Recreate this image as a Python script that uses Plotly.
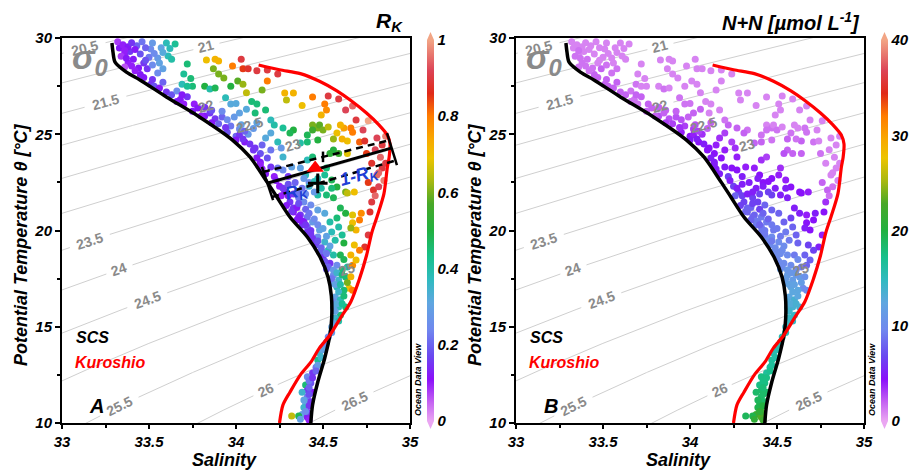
import numpy as np
import plotly.graph_objects as go

# ---------------- data ----------------
sal = [
    33.33, 33.36, 33.39, 33.41, 33.38, 33.43, 33.45, 33.47, 33.44, 33.51,
    33.52, 33.55, 33.56, 33.58, 33.55, 33.60, 33.65, 33.61, 33.63, 33.49,
    33.51, 33.53, 33.45, 33.72, 33.70, 33.74, 33.69, 33.75, 33.72, 33.83,
    33.88, 33.90, 33.98, 34.03, 34.04, 34.07, 34.12, 33.87, 33.90, 33.93,
    33.82, 33.85, 33.88, 33.97, 34.01, 34.04, 34.06, 33.94, 33.97, 34.00,
    34.02, 34.06, 34.09, 34.12, 33.68, 33.70, 33.66, 33.76, 33.78, 33.75,
    33.82, 33.80, 33.85, 33.88, 33.86, 33.90, 33.95, 33.97, 34.00, 34.02,
    34.07, 34.10, 34.18, 34.24, 34.18, 34.15, 34.28, 34.33, 34.29, 34.38,
    34.44, 34.53, 34.59, 34.51, 34.52, 34.49, 34.63, 34.67, 34.69, 34.73,
    34.76, 34.66, 34.67, 34.62, 34.60, 34.58, 34.64, 34.61, 34.56, 34.71,
    34.74, 34.81, 34.84, 34.86, 34.44, 34.47, 34.48, 34.44, 34.50, 34.53,
    34.33, 34.31, 34.27, 34.22, 34.20, 34.12, 34.11, 34.17, 34.20, 34.17,
    34.24, 34.37, 34.41, 34.47, 34.41, 34.56, 34.59, 34.54, 34.64, 34.10,
    34.14, 34.20, 34.26, 34.27, 34.05, 34.11, 34.15, 34.02, 34.00, 34.12,
    34.14, 34.18, 34.20, 34.24, 34.27, 34.32, 34.37, 34.41, 34.40, 34.44,
    34.47, 34.51, 34.52, 34.55, 34.58, 34.55, 34.49, 34.47, 34.52, 34.56,
    34.63, 34.64, 34.68, 34.60, 34.63, 34.67, 34.72, 34.71, 34.67, 34.69,
    34.66, 34.78, 34.79, 34.82, 34.81, 34.84, 34.86, 34.77, 34.76, 34.74,
    34.71, 34.68, 34.66, 34.62, 34.61, 34.59, 34.55, 34.58, 34.54, 34.51,
    34.47, 34.43, 34.39, 34.36, 34.31, 34.33, 34.37, 34.41, 34.44, 34.41,
    34.48, 34.47, 34.51, 34.53, 34.50, 34.56, 34.60, 34.33, 34.36, 34.39,
    34.38, 34.41, 34.44, 34.46, 34.48, 34.54, 34.58, 34.61, 34.64, 34.67,
    34.69, 34.56, 34.59, 34.63, 34.65, 34.67, 34.62, 34.58, 34.55, 34.57,
    34.60, 34.63, 34.59, 34.56, 34.60, 34.57, 34.55, 34.53, 34.50, 34.48,
    34.47, 34.46, 34.44, 34.41, 34.40, 34.43, 34.41, 34.41, 34.40, 34.43,
    34.39, 34.38, 34.36, 34.32, 34.41, 34.41, 34.44, 34.22, 34.25, 34.28,
    34.30, 34.35, 34.38, 34.43, 34.46, 34.50, 34.52, 34.34, 34.30, 34.38,
    34.42, 34.45, 34.40, 34.26, 34.32, 34.80, 34.83, 34.78, 34.82, 34.75,
    34.85, 34.80, 34.76, 34.42, 34.45,
    33.32, 33.35, 33.38, 33.40, 33.46, 33.48, 33.42, 33.36, 33.34, 33.37,
    33.50, 33.53, 33.57, 33.58, 33.62, 33.48, 33.52, 33.40, 33.36, 33.42,
    33.47, 33.52, 33.56, 33.60, 33.63, 33.58, 33.66, 33.72, 33.69, 33.82,
    33.86, 33.92, 33.95, 33.92, 33.99, 34.04, 34.08, 34.03, 33.94, 34.05,
    34.15, 34.17, 34.14, 34.23, 34.27, 34.30, 34.33, 34.36, 34.29, 34.40,
    34.42, 34.35, 34.40, 34.45, 34.47, 34.43, 34.50, 34.47, 34.52, 34.49,
    34.54, 34.57, 34.52, 34.36, 34.39,
    34.51, 34.53, 34.56, 34.55, 34.58, 34.61, 34.57, 34.60, 34.59, 34.62,
    34.56, 34.58, 34.61, 34.57, 34.59, 34.56, 34.55, 34.64, 34.66, 34.62,
    34.52, 34.50, 34.49, 34.47, 34.46, 34.42, 34.44, 34.42, 34.38, 34.42,
    34.39, 34.42, 34.40, 34.37, 34.42,
]
temp = [
    29.48, 29.17, 29.30, 28.90, 28.70, 29.60, 29.17, 28.70, 28.44, 29.43,
    29.74, 28.96, 28.70, 28.40, 28.18, 29.74, 29.69, 29.06, 28.90, 28.40,
    27.60, 27.50, 28.10, 28.65, 28.13, 27.90, 27.60, 27.50, 27.50, 28.86,
    28.90, 28.80, 28.55, 28.90, 28.40, 28.40, 28.30, 28.40, 28.13, 27.92,
    27.50, 27.35, 27.40, 27.50, 27.77, 27.60, 27.15, 26.90, 26.57, 26.60,
    26.10, 26.30, 26.70, 26.57, 26.80, 26.57, 26.70, 26.57, 26.36, 26.20,
    25.95, 25.95, 26.10, 25.80, 25.60, 25.55, 25.10, 25.43, 24.90, 25.27,
    25.00, 25.30, 28.34, 28.13, 27.77, 27.30, 27.14, 27.14, 26.78, 26.50,
    26.94, 26.99, 26.83, 26.57, 26.26, 26.00, 26.26, 26.47, 25.74, 25.22,
    25.70, 25.32, 25.10, 25.32, 25.48, 25.06, 24.65, 24.75, 24.75, 24.60,
    24.65, 24.80, 24.44, 24.90, 25.48, 25.32, 25.48, 25.22, 25.22, 25.38,
    25.22, 25.06, 25.32, 25.48, 25.74, 25.60, 26.10, 26.26, 25.06, 24.80,
    24.60, 24.55, 24.60, 24.70, 24.96, 24.18, 24.00, 24.00, 24.00, 24.18,
    24.00, 24.18, 24.29, 23.82, 24.60, 24.29, 24.44, 24.96, 24.70, 23.77,
    23.55, 23.77, 23.30, 23.25, 23.14, 23.30, 23.25, 23.66, 22.88, 23.82,
    22.70, 22.88, 23.25, 22.62, 22.26, 22.20, 22.20, 21.84, 21.84, 21.70,
    22.00, 21.95, 22.00, 21.17, 20.90, 20.80, 20.90, 20.55, 20.40, 20.03,
    20.13, 21.48, 22.10, 22.27, 22.88, 23.25, 23.50, 20.96, 19.77, 19.14,
    18.98, 19.25, 18.73, 19.35, 19.77, 20.18, 19.92, 20.65, 20.44, 20.90,
    21.06, 21.32, 21.48, 21.70, 21.48, 21.17, 20.80, 20.70, 20.44, 20.18,
    20.03, 19.66, 19.40, 18.98, 18.88, 18.73, 18.73, 20.96, 20.70, 20.44,
    20.29, 19.92, 19.60, 19.25, 18.88, 18.30, 18.20, 17.95, 18.10, 18.20,
    18.47, 17.69, 17.43, 17.58, 17.00, 16.90, 16.90, 17.06, 17.27, 16.55,
    16.40, 16.03, 16.03, 15.97, 15.60, 15.45, 14.99, 14.47, 13.95, 13.64,
    13.27, 12.90, 12.60, 12.40, 11.97, 12.08, 11.70, 11.35, 11.04, 11.10,
    10.80, 10.44, 10.36, 10.36, 10.30, 10.57, 11.60, 22.80, 22.30, 22.00,
    21.80, 21.20, 20.50, 20.00, 19.40, 18.60, 18.00, 22.50, 22.80, 22.20,
    22.50, 22.00, 21.90, 21.80, 21.00, 24.20, 23.80, 23.50, 23.00, 24.00,
    22.60, 21.80, 22.50, 22.30, 22.55,
    29.80, 29.65, 29.55, 29.75, 29.80, 29.50, 29.40, 29.35, 29.05, 28.95,
    29.00, 29.20, 29.50, 29.25, 29.45, 28.85, 28.60, 28.55, 28.50, 28.30,
    27.95, 27.85, 27.40, 27.20, 27.05, 27.70, 27.25, 26.95, 27.05, 26.40,
    26.25, 25.90, 25.75, 26.20, 25.90, 24.75, 24.50, 25.50, 25.35, 25.15,
    23.20, 22.95, 23.40, 22.60, 22.20, 22.40, 21.90, 21.40, 21.30, 21.10,
    20.90, 20.55, 20.30, 20.60, 20.30, 19.80, 20.10, 19.45, 19.70, 19.10,
    19.20, 19.50, 18.80, 22.00, 22.70,
    18.40, 18.10, 17.95, 17.50, 17.80, 17.70, 17.20, 17.20, 16.80, 16.60,
    16.30, 16.20, 16.20, 15.80, 15.30, 15.20, 14.70, 17.30, 17.60, 18.50,
    14.20, 13.80, 13.40, 13.00, 12.70, 12.20, 12.35, 11.85, 11.60, 11.50,
    11.20, 10.90, 10.60, 10.20, 10.15,
]
rk = [
    .12, .10, .15, .12, .10, .20, .18, .15, .12, .25,
    .28, .28, .30, .30, .25, .38, .42, .38, .40, .15,
    .15, .18, .12, .45, .42, .45, .38, .45, .42, .70,
    .72, .72, .80, .90, .85, .88, .90, .60, .60, .60,
    .50, .40, .48, .50, .58, .62, .65, .38, .32, .32,
    .30, .32, .45, .45, .12, .10, .12, .10, .12, .12,
    .12, .10, .15, .15, .12, .20, .18, .22, .20, .25,
    .28, .28, .90, .90, .80, .60, .72, .72, .65, .70,
    .80, .90, .90, .80, .78, .72, .92, .95, .90, .92,
    1.0, .80, .80, .75, .72, .70, .70, .72, .62, .82,
    .88, .92, .90, .97, .60, .60, .58, .55, .60, .65,
    .50, .48, .42, .40, .38, .30, .45, .45, .32, .32,
    .38, .40, .45, .50, .48, .50, .55, .52, .68, .15,
    .18, .22, .28, .35, .12, .15, .20, .15, .12, .12,
    .12, .18, .15, .22, .25, .30, .30, .38, .38, .45,
    .38, .42, .45, .48, .50, .45, .40, .40, .45, .48,
    .60, .65, .70, .48, .50, .68, .78, .80, .70, .72,
    .62, .90, .88, .92, .95, .90, .90, .88, .90, .88,
    .80, .70, .72, .50, .42, .40, .38, .45, .40, .32,
    .30, .25, .25, .22, .15, .15, .15, .22, .28, .20,
    .30, .25, .35, .38, .30, .40, .48, .12, .12, .12,
    .15, .15, .15, .18, .20, .15, .25, .45, .40, .78,
    .70, .25, .35, .45, .70, .80, .45, .38, .28, .30,
    .38, .45, .38, .30, .45, .35, .30, .25, .25, .35,
    .42, .22, .15, .25, .45, .18, .15, .22, .30, .15,
    .35, .30, .48, .65, .12, .15, .12, .10, .10, .12,
    .12, .12, .12, .15, .15, .15, .18, .20, .15, .22,
    .25, .28, .25, .10, .15, .92, .95, .88, .95, .85,
    .97, .95, .85, .35, .38,
    .08, .10, .12, .15, .22, .20, .12, .10, .08, .12,
    .22, .25, .30, .32, .38, .18, .25, .10, .06, .10,
    .12, .15, .12, .15, .18, .20, .25, .15, .12, .15,
    .18, .20, .25, .25, .28, .15, .15, .30, .15, .20,
    .10, .12, .10, .12, .15, .18, .15, .18, .12, .20,
    .22, .12, .15, .25, .25, .15, .30, .18, .30, .20,
    .30, .40, .22, .22, .28,
    .18, .20, .28, .22, .35, .45, .30, .40, .35, .45,
    .25, .32, .42, .30, .40, .30, .28, .60, .72, .48,
    .25, .30, .35, .28, .20, .22, .15, .20, .35, .18,
    .30, .15, .25, .30, .10,
]
nn = [
    1, 1, 1, 1.5, 1.5, 1, 1, 1, 1.5, 1,
    1, 1, 1, 1.5, 1.5, 1, 1, 1, 1, 2,
    2, 2, 2, 1, 1, 1, 1.5, 1, 1, 1,
    1, 1, 1, 1, 1, 1, 1, 1, 1, 1,
    1, 1.5, 1, 1, 1, 1, 1, 1.5, 1.5, 1.5,
    2, 2, 1, 1, 1.5, 1.5, 1.5, 2, 2, 2,
    2.5, 2, 2, 2.5, 3, 3, 4, 3, 4.5, 3,
    3.5, 2, 1, 1, 1, 1, 1, 1, 1, 1,
    1, 1, 1, 1, 1, 1, 1, 1, 1, 1,
    1, 1.5, 1.5, 1, 1, 1.5, 2, 1.5, 2, 1.5,
    1, 1, 1, 1, 1, 1.5, 1, 1.5, 1.5, 1,
    1.5, 2, 2, 2, 1.5, 2, 1, 1, 3, 3.5,
    3, 2, 2, 1.5, 1.5, 2, 2, 2.5, 2, 4.5,
    4.5, 4, 3.5, 4, 4.5, 4.5, 4, 4, 5, 5,
    5, 4.5, 5, 4.5, 4.5, 4, 4, 3.5, 4.5, 3,
    4.5, 4, 3.5, 4, 4.5, 5, 5, 6.5, 5, 5,
    4.5, 4.5, 4, 5, 5, 4, 5, 4.5, 4.5, 4.5,
    5, 3.5, 2, 1.5, 1, 1, 1, 4.5, 4, 5,
    6.5, 6.5, 8, 8, 8, 8, 9, 6.5, 8, 8,
    8, 8, 6.5, 6.5, 6.5, 8, 8, 9, 9, 9,
    9, 10, 10, 10, 10, 10, 9, 8, 8, 9,
    9, 9, 10, 10, 10, 10, 10, 10, 9, 8,
    8, 11.5, 11.5, 11.5, 10, 10, 12.5, 12.5, 11.5, 12.5,
    13.5, 13.5, 13.5, 13.5, 14.5, 14.5, 14.5, 15.5, 15.5, 15.5,
    16.5, 16.5, 16.5, 17.5, 17.5, 17.5, 18.5, 18.5, 19.5, 18.5,
    19.5, 22, 19.5, 19, 23, 22, 18.5, 6.5, 6.5, 6.5,
    6.5, 8, 9, 9, 10, 10, 11.5, 5, 5, 5,
    4.5, 6.5, 6.5, 8, 8, 1, 1, 1, 1, 1.5,
    1, 1.5, 2, 5, 4.5,
    1, 1, 1, 1, 1, 1, 1, 1.5, 1.5, 1.5,
    1, 1, 1, 1, 1, 1, 1.5, 1.5, 1.5, 1.5,
    2, 2, 2, 2, 2, 2, 1.5, 2, 2, 2,
    2, 2.5, 2.5, 2, 2, 5, 5, 2.5, 3.5, 3,
    5, 5, 5, 5, 5, 5, 5, 6.5, 6.5, 6.5,
    8, 8, 8, 8, 9, 9, 9, 9, 9, 10,
    10, 9, 10, 5, 5,
    10, 10, 11, 11.5, 11, 11, 12, 12, 12.5, 12.5,
    13, 13, 13.5, 14, 14.5, 14.5, 15, 11.5, 10.5, 10,
    15.5, 15.5, 16, 16.5, 17, 17.5, 17.5, 18, 18.5, 18.5,
    19, 20, 21, 21, 22,
]

# end-member curves
scs_sal = [33.287, 33.293, 33.305, 33.37, 33.448, 33.60, 33.79, 33.98, 34.08, 34.18, 34.235,
           34.31, 34.41, 34.483, 34.529, 34.548, 34.55, 34.54, 34.51, 34.47, 34.44, 34.43]
scs_temp = [29.74, 29.27, 28.75, 28.23, 27.82, 26.94, 25.90, 24.70, 23.82, 22.50, 21.74,
            20.70, 19.66, 18.62, 17.58, 16.60, 15.45, 14.57, 13.38, 12.13, 10.94, 10.00]
kuro_sal = [34.13, 34.25, 34.37, 34.48, 34.58, 34.66, 34.75, 34.82, 34.87, 34.885, 34.88, 34.87, 34.85,
            34.81, 34.78, 34.75, 34.71, 34.66, 34.60, 34.54, 34.48, 34.43, 34.37, 34.31, 34.27, 34.25]
kuro_temp = [28.60, 28.35, 28.15, 27.75, 27.25, 26.75, 26.10, 25.50, 24.95, 24.50, 23.80, 23.30, 21.90,
             20.70, 19.87, 18.70, 17.50, 16.30, 15.45, 14.57, 13.90, 13.16, 12.50, 11.60, 10.94, 10.00]

# mixing-line construction (panel A)
mix_solid_sal, mix_solid_temp = [34.184, 34.897], [22.47, 24.29]
mix_upper_sal, mix_upper_temp = [34.155, 34.885], [23.04, 24.70]
mix_lower_sal, mix_lower_temp = [34.207, 34.925], [21.74, 23.66]
cap_left_sal, cap_left_temp = [34.149, 34.213], [23.30, 21.58]
cap_right_sal, cap_right_temp = [34.868, 34.925], [25.06, 23.40]
tick_up_sal, tick_up_temp = [34.50, 34.50], [23.55, 24.10]
tick_lo_sal, tick_lo_temp = [34.47, 34.47], [22.10, 22.85]
obs_sal, obs_temp = [34.455], [23.25]
end_sal, end_temp = [34.47], [22.45]

# isopycnals (sigma-0) and where their labels sit
sigma_levels = [20.5, 21, 21.5, 22, 22.5, 23, 23.5, 24, 24.5, 25, 25.5, 26, 26.5]
sigma_label_sal = [33.13, 33.83, 33.25, 33.83, 34.08, 34.33, 33.16, 33.33, 33.49, 34.64, 33.33, 34.17, 34.68]
sigma_label_text = ['20.5', '21', '21.5', '22', '22.5', '23', '23.5', '24', '24.5', '25', '25.5', '26', '26.5']

x_ticks = [33, 33.5, 34, 34.5, 35]
x_tick_text = ['33', '33.5', '34', '34.5', '35']
x_minor = [33.25, 33.75, 34.25, 34.75]
y_ticks = [10, 15, 20, 25, 30]
y_minor = [12.5, 17.5, 22.5, 27.5]
rk_ticks = [0, 0.2, 0.4, 0.6, 0.8, 1]
rk_tick_text = ['0', '0.2', '0.4', '0.6', '0.8', '1']
nn_ticks = [0, 10, 20, 30, 40]
nn_tick_text = ['0', '10', '20', '30', '40']

# ---------------- style / layout ----------------
W, H = 910, 470
FONT = 'Liberation Sans, Arial, sans-serif'
PLOT_L = [62, 516]        # left pixel of each panel
PLOT_W = 348
PLOT_TOP, PLOT_BOT = 38, 423
px_s = PLOT_W / 2.0
px_t = (PLOT_BOT - PLOT_TOP) / 20.0

odv = [
    [0.00, '#eaa6f2'], [0.05, '#c462f2'], [0.11, '#8a10fa'], [0.17, '#6a48f0'],
    [0.24, '#7088ee'], [0.31, '#5fa6e0'], [0.37, '#30bac0'], [0.43, '#18c08c'],
    [0.50, '#22b040'], [0.57, '#48a828'], [0.63, '#a8b810'], [0.69, '#ecc400'],
    [0.74, '#f8a800'], [0.80, '#ff7c00'], [0.86, '#e02a18'], [0.92, '#dc4456'],
    [1.00, '#f2a585'],
]


def sigma0(S, T):
    rw = (999.842594 + 6.793952e-2 * T - 9.095290e-3 * T**2 + 1.001685e-4 * T**3
          - 1.120083e-6 * T**4 + 6.536332e-9 * T**5)
    A = 8.24493e-1 - 4.0899e-3 * T + 7.6438e-5 * T**2 - 8.2467e-7 * T**3 + 5.3875e-9 * T**4
    B = -5.72466e-3 + 1.0227e-4 * T - 1.6546e-6 * T**2
    C = 4.8314e-4
    return rw + A * S + B * S**1.5 + C * S**2 - 1000.0


def iso_temp(level, S):
    S = np.asarray(S, dtype=float)
    lo = np.zeros_like(S)
    hi = np.full_like(S, 40.0)
    for _ in range(60):
        mid = 0.5 * (lo + hi)
        dense = sigma0(S, mid) > level
        lo = np.where(dense, mid, lo)
        hi = np.where(dense, hi, mid)
    return 0.5 * (lo + hi)


s_grid = np.linspace(32.9, 35.1, 441)
iso_x, iso_y, iso_labels = [], [], []
for lev, ls, txt in zip(sigma_levels, sigma_label_sal, sigma_label_text):
    tg = iso_temp(lev, s_grid)
    lt = float(iso_temp(lev, [ls])[0])
    t2 = iso_temp(lev, [ls - 0.01, ls + 0.01])
    slope = (t2[1] - t2[0]) / 0.02
    ang = -np.degrees(np.arctan(slope * px_t / px_s))
    half = 4.0 * len(txt) + 5
    d = np.hypot((s_grid - ls) * px_s, (tg - lt) * px_t)
    for s, t, dd in zip(s_grid, tg, d):
        if dd < half:
            iso_x.append(None); iso_y.append(None)
        else:
            iso_x.append(float(s)); iso_y.append(float(t))
    iso_x.append(None); iso_y.append(None)
    iso_labels.append((ls, lt, txt, ang))

fig = go.Figure()


def tf(size, color='black', bold=True, italic=True):
    return dict(family=FONT, size=size, color=color,
                weight='bold' if bold else 'normal',
                style='italic' if italic else 'normal')


cb_len = 381
cb_y = 1 - ((PLOT_TOP + PLOT_BOT) / 2.0) / H

for p in range(2):
    xa = 'x' if p == 0 else 'x2'
    ya = 'y' if p == 0 else 'y2'
    fig.add_trace(go.Scatter(x=iso_x, y=iso_y, xaxis=xa, yaxis=ya, mode='lines',
                             line=dict(color='#cfcfcf', width=1), hoverinfo='skip', showlegend=False))
    cvals = rk if p == 0 else nn
    cmax = 1 if p == 0 else 40
    cb_x = (PLOT_L[p] + PLOT_W + 17) / W
    fig.add_trace(go.Scatter(
        x=sal, y=temp, xaxis=xa, yaxis=ya, mode='markers', showlegend=False,
        marker=dict(size=7, color=cvals, colorscale=odv, cmin=0, cmax=cmax, line=dict(width=0),
                    colorbar=dict(x=cb_x, xanchor='left', xpad=0, y=cb_y, yanchor='middle', ypad=0,
                                  len=cb_len, lenmode='pixels', thickness=7, outlinewidth=0,
                                  tickvals=rk_ticks if p == 0 else nn_ticks,
                                  ticktext=rk_tick_text if p == 0 else nn_tick_text,
                                  ticks='', tickfont=tf(15)))))
    fig.add_trace(go.Scatter(x=scs_sal, y=scs_temp, xaxis=xa, yaxis=ya, mode='lines',
                             line=dict(color='black', width=3.5, shape='spline', smoothing=0.8),
                             showlegend=False))
    fig.add_trace(go.Scatter(x=kuro_sal, y=kuro_temp, xaxis=xa, yaxis=ya, mode='lines',
                             line=dict(color='#ff0000', width=3.2, shape='spline', smoothing=0.8),
                             showlegend=False))

# mixing construction (panel A only)
for xs, ys, dash, w in [(mix_upper_sal, mix_upper_temp, '7px,5px', 2.5),
                        (mix_lower_sal, mix_lower_temp, '7px,5px', 2.5),
                        (mix_solid_sal, mix_solid_temp, 'solid', 3),
                        (cap_left_sal, cap_left_temp, 'solid', 2.5),
                        (cap_right_sal, cap_right_temp, 'solid', 2.5),
                        (tick_up_sal, tick_up_temp, 'solid', 2.5),
                        (tick_lo_sal, tick_lo_temp, 'solid', 2.5)]:
    fig.add_trace(go.Scatter(x=xs, y=ys, xaxis='x', yaxis='y', mode='lines',
                             line=dict(color='black', width=w, dash=dash), showlegend=False))
fig.add_trace(go.Scatter(x=end_sal, y=end_temp, xaxis='x', yaxis='y', mode='markers',
                         marker=dict(symbol='cross-thin', size=14, line=dict(color='black', width=3)),
                         showlegend=False))
fig.add_trace(go.Scatter(x=obs_sal, y=obs_temp, xaxis='x', yaxis='y', mode='markers',
                         marker=dict(symbol='triangle-up', size=15, color='#ff0000', line=dict(width=0)),
                         showlegend=False))

ann = []
for p in range(2):
    xa = 'x' if p == 0 else 'x2'
    ya = 'y' if p == 0 else 'y2'
    for ls, lt, txt, ang in iso_labels:
        ann.append(dict(x=ls, y=lt, xref=xa, yref=ya, text=txt, showarrow=False, textangle=ang,
                        xanchor='center', yanchor='middle', font=tf(14, '#8a8a8a', True, False)))
    ann.append(dict(x=33.045, y=28.9, xref=xa, yref=ya, xanchor='left', yanchor='middle',
                    text='σ<sub>0</sub>', showarrow=False, font=tf(34, '#8a8a8a')))
    ann.append(dict(x=33.07, y=14.42, xref=xa, yref=ya, xanchor='left', yanchor='middle',
                    text='SCS', showarrow=False, font=tf(16)))
    ann.append(dict(x=33.065, y=13.12, xref=xa, yref=ya, xanchor='left', yanchor='middle',
                    text='Kuroshio', showarrow=False, font=tf(16, '#ff0000')))
    ann.append(dict(x=33.2, y=10.9, xref=xa, yref=ya, xanchor='center', yanchor='middle',
                    text='A' if p == 0 else 'B', showarrow=False, font=tf(20)))
    # axis titles
    ann.append(dict(x=(PLOT_L[p] + PLOT_W / 2 - 12) / W, y=1 - 460 / H, xref='paper', yref='paper',
                    xanchor='center', yanchor='middle', text='Salinity', showarrow=False, font=tf(18)))
    ann.append(dict(x=(PLOT_L[p] - 41) / W, y=1 - 245 / H, xref='paper', yref='paper',
                    xanchor='center', yanchor='middle', text='Potential Temperature θ [°C]',
                    textangle=-90, showarrow=False, font=tf(18)))
    ann.append(dict(x=(PLOT_L[p] + PLOT_W + 8) / W, y=1 - 380 / H, xref='paper', yref='paper',
                    xanchor='center', yanchor='middle', text='Ocean Data View', textangle=-90,
                    showarrow=False, font=tf(9)))
ann.append(dict(x=405 / W, y=1 - 22 / H, xref='paper', yref='paper', xanchor='right', yanchor='middle',
                text='R<sub>K</sub>', showarrow=False, font=tf(21)))
ann.append(dict(x=862 / W, y=1 - 21 / H, xref='paper', yref='paper', xanchor='right', yanchor='middle',
                text='N+N [µmol L<sup>-1</sup>]', showarrow=False, font=tf(20)))
ann.append(dict(x=34.35, y=22.0, xref='x', yref='y', text='R<sub>K</sub>', textangle=-15,
                xanchor='center', yanchor='middle', showarrow=False, font=tf(18, '#1f3fd6')))
ann.append(dict(x=34.71, y=22.8, xref='x', yref='y', text='1-R<sub>K</sub>', textangle=-15,
                xanchor='center', yanchor='middle', showarrow=False, font=tf(18, '#1f3fd6')))

# colourbar end triangles
shapes = []
for p in range(2):
    x0 = (PLOT_L[p] + PLOT_W + 17) / W
    x1 = (PLOT_L[p] + PLOT_W + 24) / W
    xm = (x0 + x1) / 2
    top = 1 - (PLOT_TOP + 2) / H
    tip_t = 1 - (PLOT_TOP - 6) / H
    bot = 1 - (PLOT_BOT - 2) / H
    tip_b = 1 - (PLOT_BOT + 6) / H
    shapes.append(dict(type='path', xref='paper', yref='paper',
                       path=f'M {x0},{top} L {x1},{top} L {xm},{tip_t} Z',
                       fillcolor='#f2a585', line=dict(width=0)))
    shapes.append(dict(type='path', xref='paper', yref='paper',
                       path=f'M {x0},{bot} L {x1},{bot} L {xm},{tip_b} Z',
                       fillcolor='#eaa6f2', line=dict(width=0)))

common = dict(showline=True, linecolor='black', linewidth=2, mirror=True, ticks='outside',
              ticklen=5, tickwidth=1.5, tickcolor='black', showgrid=False, zeroline=False,
              tickfont=tf(15))
ydom = [1 - PLOT_BOT / H, 1 - PLOT_TOP / H]
layout = dict(width=W, height=H, margin=dict(l=0, r=0, t=0, b=0, autoexpand=False),
              paper_bgcolor='white', plot_bgcolor='white', showlegend=False,
              annotations=ann, shapes=shapes)
for p in range(2):
    sx = '' if p == 0 else '2'
    layout['xaxis' + sx] = dict(common, domain=[PLOT_L[p] / W, (PLOT_L[p] + PLOT_W) / W],
                                range=[33, 35], tickvals=x_ticks, ticktext=x_tick_text,
                                anchor='y' + sx, ticklen=4,
                                minor=dict(tickvals=x_minor, ticks='outside', ticklen=3,
                                           tickcolor='black'))
    layout['yaxis' + sx] = dict(common, domain=ydom, range=[10, 30], tickvals=y_ticks,
                                anchor='x' + sx,
                                minor=dict(tickvals=y_minor, ticks='outside', ticklen=3,
                                           tickcolor='black'))
fig.update_layout(**layout)
fig.write_html('out.html', config={'displayModeBar': False},
               post_script="document.body.style.margin='0';")
